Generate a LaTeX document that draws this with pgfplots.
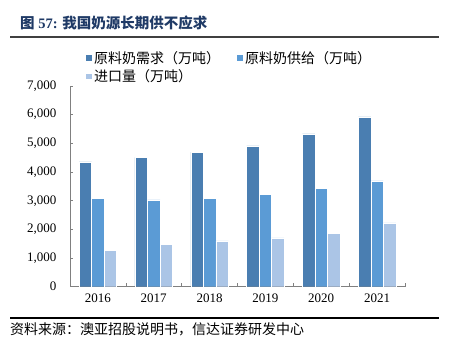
\documentclass[border=0pt]{standalone}
\usepackage{pgfplots}
\pgfplotsset{compat=1.18}
\usepackage{fontspec}
\setmainfont{Liberation Serif}
\newfontfamily\cjk{Noto Sans CJK SC}
\definecolor{cA}{HTML}{4A7EB1}
\definecolor{cB}{HTML}{5B9BD5}
\definecolor{cC}{HTML}{ABC5E6}
\definecolor{ttl}{HTML}{1F3A66}
\begin{document}
\begin{tikzpicture}
\path (0pt,0pt) rectangle (449pt,346pt);
\node[anchor=west,text=ttl,font=\fontsize{14.5}{15}\selectfont\bfseries,inner sep=0pt] at (20pt,323pt) {{\cjk 图} 57: {\cjk 我国奶源长期供不应求}};
\draw[line width=1.2pt,color=black!75] (10pt,309pt) -- (439pt,309pt);
\draw[line width=1.4pt,color=black] (10pt,28pt) -- (439pt,28pt);
\node[anchor=west,font=\fontsize{14}{15}\selectfont\cjk,inner sep=0pt] at (10pt,17pt) {资料来源：澳亚招股说明书，信达证券研发中心};
\begin{axis}[
  at={(70pt,59.3pt)}, anchor=south west,
  scale only axis, width=335pt, height=200.7pt,
  ybar=0pt, bar width=12.5pt,
  xmin=-0.5, xmax=5.5, ymin=0, ymax=7000,
  axis x line*=bottom, axis y line*=left,
  axis line style={draw=black!50, line width=0.8pt},
  xtick={0,...,5}, xticklabels={2016,2017,2018,2019,2020,2021},
  major x tick style={draw=none},
  minor xtick={-0.5,0.5,...,5.5},
  minor x tick style={draw=black!50,line width=0.6pt},
  minor tick length=4pt,
  ytick={0,1000,...,7000},
  major y tick style={draw=black!50,line width=0.6pt},
  major tick length=3pt,
  tick align=inside,
  scaled y ticks=false,
  /pgf/number format/.cd, 1000 sep={,}, assume math mode=true, /pgfplots/.cd,
  ticklabel style={font=\fontsize{13}{14}\selectfont},
  yticklabel style={xshift=-10pt},
  xticklabel style={yshift=-4pt},
  legend cell align=left,
  legend style={at={(0.045,1.185)}, anchor=north west, draw=none, fill=none,
    font=\fontsize{14}{16}\selectfont\cjk, legend columns=2,
    /tikz/every even column/.append style={column sep=14pt},
    row sep=1pt, inner sep=0pt},
  legend image code/.code={\fill[#1] (0pt,-3.2pt) rectangle (6.5pt,3.2pt);},
]
\addplot[fill=cA,draw=white,line width=0.4pt] coordinates {(0,4350) (1,4510) (2,4690) (3,4910) (4,5330) (5,5920)};
\addplot[fill=cB,draw=white,line width=0.4pt] coordinates {(0,3070) (1,3030) (2,3070) (3,3210) (4,3440) (5,3690)};
\addplot[fill=cC,draw=white,line width=0.4pt] coordinates {(0,1280) (1,1470) (2,1600) (3,1700) (4,1870) (5,2230)};
\legend{原料奶需求（万吨）,原料奶供给（万吨）,进口量（万吨）}
\end{axis}
\end{tikzpicture}
\end{document}
